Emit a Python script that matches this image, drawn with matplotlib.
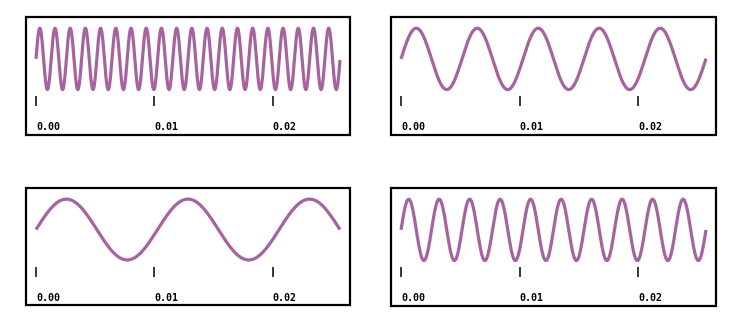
import matplotlib.pyplot as plt
from matplotlib.patches import Rectangle
import numpy as np

duration = 0.0257
freqs = [778.0, 194.6, 97.3, 389.1]   # top-left, top-right, bottom-left, bottom-right
tick_vals = [0.00, 0.01, 0.02]
tick_labels = ["0.00", "0.01", "0.02"]

W, H = 744, 335
# panel boxes in pixels: left, top, right, bottom
boxes = [(26, 17, 350, 135), (391, 17, 716, 135),
         (26, 188, 350, 305), (391, 188, 716, 306)]

col = "#a5649f"
pad_t = 0.000845

fig = plt.figure(figsize=(W/100, H/100), dpi=100)
t = np.linspace(0, duration, 2000)

for f, (l, tp, r, b) in zip(freqs, boxes):
    ax = fig.add_axes([l/W, 1 - b/H, (r-l)/W, (b-tp)/H])
    ax.plot(t, np.sin(2*np.pi*f*t), color=col, lw=2.3, solid_capstyle="butt")
    ax.set_xlim(-pad_t, duration + pad_t)
    c, a = 0.645, 0.26
    ax.set_ylim(-c/a, (1-c)/a)
    for s in ["top", "left", "right"]:
        ax.spines[s].set_visible(False)
    ax.spines["bottom"].set_position(("axes", 0.242))
    ax.spines["bottom"].set_visible(False)
    ax.set_yticks([])
    ax.set_xticks(tick_vals)
    ax.set_xticklabels(tick_labels, family="DejaVu Sans Mono", fontweight="bold", fontsize=7.2)
    ax.tick_params(axis="x", direction="in", length=7, width=1.1, pad=11.5)
    for lab in ax.get_xticklabels():
        lab.set_ha("left")
    ax.add_patch(Rectangle((0, 0), 1, 1, transform=ax.transAxes, fill=False,
                           ec="black", lw=1.6, clip_on=False))

fig.savefig("out.png", dpi=100)
